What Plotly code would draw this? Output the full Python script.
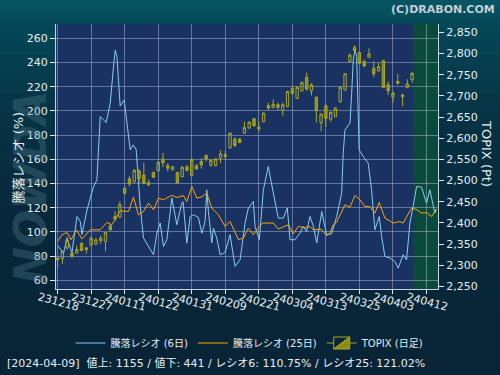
import plotly.graph_objects as go

# ---------------- data ----------------
tick_pos = [0, 7, 14, 21, 28, 35, 42, 49, 56, 63, 70, 77]
tick_labels = ["231218", "231227", "240111", "240122", "240131", "240209",
               "240221", "240304", "240313", "240325", "240403", "240412"]

candle_day = list(range(75))
topix_open = [2317, 2316, 2341, 2329, 2329, 2352, 2341, 2348, 2350, 2358,
              2356, 2393, 2415, 2414, 2482, 2504, 2498, 2523, 2513, 2495,
              2519, 2523, 2551, 2535, 2525, 2519, 2509, 2532, 2512, 2535,
              2545, 2559, 2537, 2535, 2553, 2561, 2578, 2598, 2598, 2612,
              2624, 2646, 2626, 2639, 2677, 2672, 2679, 2665, 2675, 2718,
              2694, 2712, 2744, 2712, 2697, 2637, 2676, 2645, 2651, 2686,
              2714, 2781, 2814, 2802, 2781, 2791, 2765, 2759, 2783, 2726,
              2697, 2734, 2702, 2720, 2738]
topix_high = [2321, 2335, 2366, 2333, 2346, 2354, 2343, 2368, 2364, 2370,
              2378, 2397, 2427, 2451, 2484, 2510, 2527, 2527, 2542, 2502,
              2521, 2545, 2565, 2541, 2535, 2521, 2535, 2537, 2553, 2539,
              2553, 2562, 2551, 2553, 2572, 2569, 2613, 2602, 2600, 2639,
              2639, 2647, 2639, 2661, 2684, 2692, 2684, 2684, 2712, 2722,
              2723, 2734, 2755, 2730, 2698, 2659, 2681, 2663, 2673, 2723,
              2753, 2800, 2820, 2804, 2786, 2812, 2781, 2778, 2785, 2734,
              2710, 2752, 2705, 2739, 2757]
topix_low = [2293, 2303, 2337, 2317, 2327, 2333, 2327, 2344, 2348, 2351,
             2333, 2381, 2405, 2411, 2469, 2486, 2494, 2494, 2491, 2487,
             2506, 2521, 2532, 2521, 2524, 2492, 2508, 2521, 2509, 2525,
             2528, 2545, 2532, 2533, 2541, 2549, 2574, 2579, 2588, 2610,
             2622, 2627, 2616, 2638, 2667, 2671, 2665, 2653, 2673, 2702,
             2692, 2710, 2712, 2701, 2637, 2616, 2627, 2639, 2650, 2684,
             2712, 2778, 2800, 2775, 2767, 2789, 2744, 2757, 2718, 2702,
             2684, 2726, 2676, 2718, 2731]
topix_close = [2313, 2332, 2360, 2321, 2337, 2335, 2337, 2364, 2360, 2364,
               2377, 2384, 2409, 2443, 2470, 2492, 2524, 2504, 2494, 2490,
               2508, 2543, 2542, 2529, 2532, 2495, 2531, 2524, 2550, 2528,
               2537, 2551, 2547, 2551, 2563, 2557, 2612, 2583, 2590, 2625,
               2638, 2630, 2622, 2659, 2671, 2680, 2673, 2679, 2710, 2706,
               2720, 2731, 2716, 2726, 2665, 2657, 2647, 2661, 2671, 2720,
               2752, 2796, 2807, 2777, 2771, 2799, 2752, 2769, 2720, 2712,
               2706, 2730, 2698, 2728, 2753]

ratio6_day = [0, 1.25, 1.96, 3.0, 4.05, 4.73, 5.09, 6.13, 6.82, 7.51, 8.21, 8.55,
              8.9, 10.15, 10.99, 11.67, 12.03, 12.38, 13.07, 13.9, 14.32, 14.8,
              15.16, 15.78, 16.41, 17.25, 17.93, 20.02, 20.72, 21.41, 22.1, 22.81,
              23.5, 23.85, 24.89, 25.93, 26.2, 26.62, 26.97, 27.67, 28.35, 29.39,
              30.1, 30.79, 31.14, 31.48, 32.19, 32.52, 33.23, 33.92, 34.96, 36.0,
              37.04, 38.09, 39.13, 39.82, 40.86, 41.22, 42.11, 42.95, 43.98, 45.03,
              46.07, 47.12, 47.95, 48.51, 49.55, 50.6, 51.28, 51.99, 52.69, 53.39,
              54.09, 55.13, 55.83, 56.17, 57.21, 58.25, 59.29, 59.62, 59.98, 61.03,
              61.38, 61.71, 62.06, 62.42, 62.95, 63.79, 64.83, 65.54, 66.23, 67.13,
              67.63, 68.32, 69.36, 70.4, 71.09, 72.13, 72.84, 73.53, 74.21, 74.93,
              75.97, 77.0, 77.7, 78.74, 79.05]
ratio6 = [88.8, 82.6, 95, 83, 112.8, 108.7, 98, 118, 128, 137.6, 143, 168,
          195.3, 190.4, 206.4, 236.6, 250.3, 245, 204, 209, 196.7, 178.8,
          167.8, 172, 168, 121, 95, 81.2, 99, 107.4, 88, 93.6,
          115.6, 128, 106, 124, 125, 104.6, 90.8, 112.8, 114.2, 112,
          99, 108.7, 134.8, 116.9, 90.9, 103.2, 95, 81.2, 83, 97.7,
          71.6, 77, 107.3, 119.8, 125.2, 104.6, 93.6, 134.8, 154.1, 132.1,
          111.5, 111.5, 119.8, 93.6, 93.6, 99.1, 104.6, 100.4, 112.8, 104.6,
          90.9, 116.9, 101.8, 97.7, 98.5, 112.8, 132.1, 165.1, 184.3, 189.9,
          214.6, 242.1, 250.3, 245, 167.8, 162.3, 156.8, 134.8, 101.8, 112.8,
          96.3, 79.8, 78.5, 75.7, 70.2, 81.2, 77, 107.4, 121, 137.6,
          137, 123.8, 134.8, 115.6, 119]

ratio25_day = [0, 0.91, 1.96, 2.8, 3.9, 5.09, 6.82, 8.9, 10.3, 11.34, 12.38, 13.07,
               14.8, 15.84, 16.88, 17.93, 18.97, 20.02, 21.05, 22.1, 23.85, 24.89,
               26.27, 26.97, 28.02, 29.06, 30.1, 31.14, 32.19, 33.56, 34.96, 36.0,
               37.74, 38.78, 39.82, 40.86, 42.11, 42.8, 45.03, 46.07, 48.16, 49.2,
               50.23, 51.64, 52.69, 53.37, 55.12, 56.16, 56.85, 57.54, 58.24, 59.29,
               59.98, 61.03, 62.06, 63.1, 64.14, 65.19, 66.23, 67.13, 68.32, 70.05,
               71.44, 72.13, 73.89, 74.93, 75.97, 77.0, 78.05, 79.08]
ratio25 = [92.2, 97.7, 99.6, 93.6, 101.8, 94.2, 101.8, 101.8, 107.9, 106, 112.8, 117.5,
           116.9, 128.8, 114.2, 116.9, 123.9, 118.3, 128, 126.6, 130.2, 128.5,
           130, 125.2, 137.6, 128, 129, 132.1, 119.8, 114.2, 104.6, 108.7,
           93.6, 95, 103.2, 97.7, 104.6, 107.4, 107.4, 102.4, 106, 98.5,
           104.6, 103.5, 104.6, 101.8, 102.2, 96.9, 99.2, 106, 108, 116.9,
           122.5, 120.5, 130.2, 126.6, 121, 121, 115.6, 124.4, 111.5, 107.4,
           108.6, 107.4, 119.8, 118.5, 115.6, 116.1, 112.8, 118.9]

current_start = 74.2   # start of the highlighted (current) zone, in trading-day index

footer = "[2024-04-09]  値上: 1155 / 値下: 441 / レシオ6: 110.75% / レシオ25: 121.02%"

# ---------------- figure ----------------
W, H = 500, 375
ML, MR, MT, MB = 56, 62, 24, 86
PW, PH = W - ML - MR, H - MT - MB


def px_x(fx):
    return (fx - ML) / PW


def px_y(fy):
    return (H - MB - fy) / PH


FONT = "DejaVu Sans, Noto Sans CJK JP, sans-serif"
TXT = "#e6edf3"
OLIVE_LINE = "#a9a822"
OLIVE_FILL = "#8c8b12"

fig = go.Figure()

fig.add_trace(go.Scatter(
    x=ratio6_day, y=ratio6, mode="lines", name="騰落レシオ (6日)",
    line=dict(color="#87cdee", width=1), yaxis="y"))
fig.add_trace(go.Scatter(
    x=ratio25_day, y=ratio25, mode="lines", name="騰落レシオ (25日)",
    line=dict(color="#ffa500", width=1), yaxis="y"))
fig.add_trace(go.Candlestick(
    x=candle_day, open=topix_open, high=topix_high, low=topix_low, close=topix_close,
    name="TOPIX (日足)", yaxis="y2", whiskerwidth=0,
    increasing=dict(line=dict(color=OLIVE_LINE, width=1), fillcolor="rgba(0,0,0,0)"),
    decreasing=dict(line=dict(color=OLIVE_LINE, width=1), fillcolor=OLIVE_FILL)))

# background gradient (vertical)
stops = [(0, (6, 86, 100)), (24, (5, 72, 88)), (110, (6, 52, 70)),
         (220, (7, 40, 58)), (375, (8, 36, 54))]
shapes = []
N = 40
for k in range(N):
    f0 = H * k / N
    f1 = H * (k + 1) / N
    fm = (f0 + f1) / 2
    for j in range(len(stops) - 1):
        if stops[j][0] <= fm <= stops[j + 1][0]:
            t = (fm - stops[j][0]) / (stops[j + 1][0] - stops[j][0])
            c = [round(stops[j][1][m] + t * (stops[j + 1][1][m] - stops[j][1][m])) for m in range(3)]
            break
    shapes.append(dict(type="rect", xref="paper", yref="paper", layer="below",
                       x0=px_x(0), x1=px_x(W), y0=px_y(f1), y1=px_y(f0) + 0.002,
                       fillcolor=f"rgb({c[0]},{c[1]},{c[2]})", line=dict(width=0)))
# plot area
shapes.append(dict(type="rect", xref="paper", yref="paper", layer="below",
                   x0=0, x1=1, y0=0, y1=1, fillcolor="#1a3262", line=dict(width=0)))
# current zone
shapes.append(dict(type="rect", xref="x", yref="paper", layer="below",
                   x0=current_start, x1=80, y0=0, y1=1,
                   fillcolor="#0a4a3c", line=dict(width=0)))

annotations = [
    dict(text="<b>(C)DRABON.COM</b>", xref="paper", yref="paper",
         x=px_x(497), y=px_y(9), xanchor="right", yanchor="middle", showarrow=False,
         font=dict(family=FONT, size=11, color="#c6ced6")),
    dict(text="<b><i>NOWDA</i></b>", xref="paper", yref="paper",
         x=px_x(30), y=px_y(188), xanchor="center", yanchor="middle", showarrow=False,
         textangle=-90, font=dict(family=FONT, size=44, color="rgba(80,125,140,0.35)")),
    dict(text="騰落レシオ (%)", xref="paper", yref="paper",
         x=px_x(17.5), y=px_y(158), xanchor="center", yanchor="middle", showarrow=False,
         textangle=-90, font=dict(family=FONT, size=13, color=TXT)),
    dict(text="TOPIX (Pt)", xref="paper", yref="paper",
         x=px_x(487), y=px_y(153), xanchor="center", yanchor="middle", showarrow=False,
         textangle=90, font=dict(family=FONT, size=13, color=TXT)),
    dict(text=footer, xref="paper", yref="paper",
         x=px_x(5), y=px_y(363), xanchor="left", yanchor="middle", showarrow=False,
         font=dict(family=FONT, size=11, color=TXT)),
]

grid = "rgba(200,210,235,0.42)"
fig.update_layout(
    width=W, height=H,
    margin=dict(l=ML, r=MR, t=MT, b=MB, pad=0),
    paper_bgcolor="#072436",
    plot_bgcolor="rgba(0,0,0,0)",
    font=dict(family=FONT, size=11, color=TXT),
    shapes=shapes,
    annotations=annotations,
    showlegend=True,
    legend=dict(orientation="h", xref="container", yref="container",
                x=0.5, y=1 - 343 / H, xanchor="center", yanchor="middle",
                font=dict(family=FONT, size=10, color=TXT),
                bgcolor="rgba(0,0,0,0)", itemwidth=30),
    xaxis=dict(range=[-0.33, 79.4], tickmode="array", tickvals=tick_pos,
               ticktext=tick_labels, tickangle=15, ticklabelshift=-19,
               ticklabelstandoff=-7,
               showgrid=True, gridcolor=grid, gridwidth=1,
               ticks="outside", ticklen=4, tickcolor="#e0e8f0",
               showline=True, linecolor="#c8d2e0", linewidth=1,
               tickfont=dict(family=FONT, size=11, color=TXT),
               rangeslider=dict(visible=False), zeroline=False),
    yaxis=dict(range=[52.9, 271.8], tickmode="array",
               tickvals=[60, 80, 100, 120, 140, 160, 180, 200, 220, 240, 260],
               showgrid=True, gridcolor=grid, gridwidth=1,
               ticks="outside", ticklen=5, tickcolor="#e0e8f0",
               showline=True, linecolor="#c8d2e0", linewidth=1,
               tickfont=dict(family=FONT, size=11, color=TXT), zeroline=False),
    yaxis2=dict(range=[2243.9, 2869.6], overlaying="y", side="right",
                tickmode="array",
                tickvals=[2250, 2300, 2350, 2400, 2450, 2500, 2550, 2600, 2650,
                          2700, 2750, 2800, 2850],
                tickformat=",d", showgrid=False,
                ticks="outside", ticklen=5, tickcolor="#e0e8f0",
                showline=True, linecolor="#c8d2e0", linewidth=1,
                tickfont=dict(family=FONT, size=11, color=TXT), zeroline=False),
)

fig.write_html(
    "out.html",
    config={"displayModeBar": False},
    post_script="document.body.style.margin='0';document.body.style.overflow='hidden';",
)
